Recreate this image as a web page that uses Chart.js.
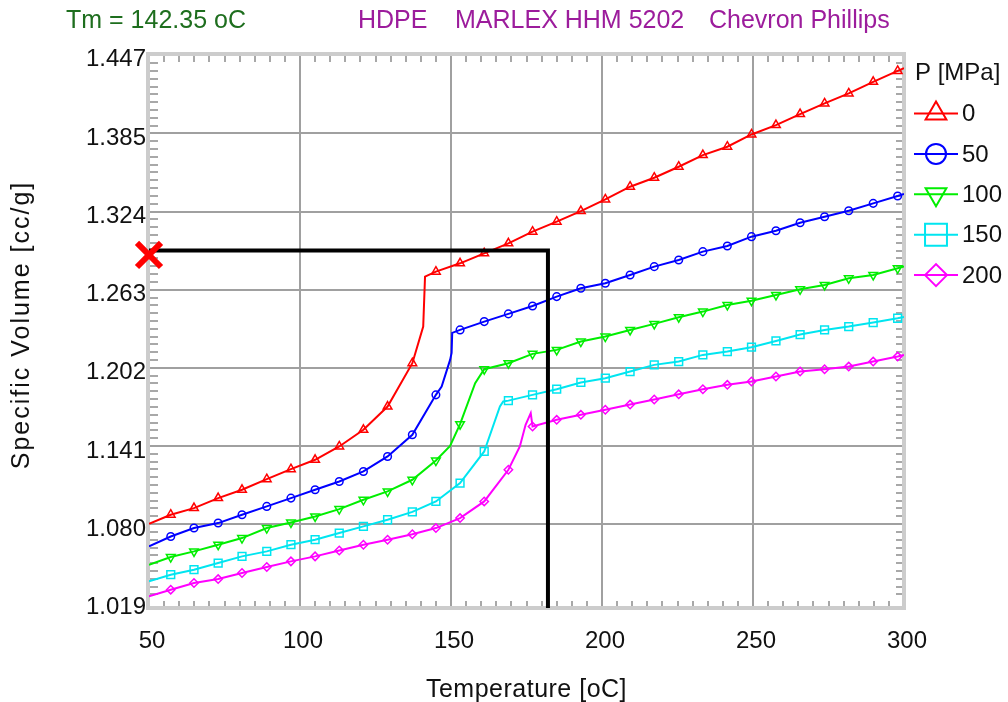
<!DOCTYPE html>
<html>
<head>
<meta charset="utf-8">
<script src="https://cdn.jsdelivr.net/npm/chart.js@4.4.1/dist/chart.umd.min.js"></script>
<style>
  html, body { margin: 0; padding: 0; background: #fff; }
  canvas { display: block; }
</style>
</head>
<body>
<canvas id="pvtChart" width="1008" height="702"></canvas>
<script>
// temperatures where the markers sit (same for every pressure)
const tempMarks = [57.2, 64.9, 72.9, 80.8, 89.0, 97.0, 105.0, 113.0, 121.0, 129.0, 137.2,
  145.0, 153.0, 161.0, 169.0, 177.0, 185.0, 193.0, 201.1, 209.3, 217.3, 225.4, 233.4,
  241.5, 249.5, 257.6, 265.6, 273.7, 281.7, 289.8, 297.9];

const pressures = ['0', '50', '100', '150', '200'];

// specific volume at the marker temperatures
const vol0 = [1.0873, 1.0925, 1.1003, 1.1068, 1.1151, 1.1229, 1.1302, 1.1406, 1.1536, 1.1718, 1.2056,
  1.2771, 1.2836, 1.2914, 1.2992, 1.3083, 1.3161, 1.3244, 1.3335, 1.3434, 1.3504, 1.3590, 1.3681,
  1.3746, 1.3842, 1.3915, 1.4001, 1.4084, 1.4162, 1.4253, 1.4338];
const vol50 = [1.0703, 1.0769, 1.0808, 1.0873, 1.0938, 1.1003, 1.1068, 1.1133, 1.1211, 1.1328, 1.1497,
  1.1809, 1.2316, 1.2381, 1.2441, 1.2503, 1.2576, 1.2641, 1.2680, 1.2745, 1.2810, 1.2862, 1.2927,
  1.2971, 1.3044, 1.3090, 1.3153, 1.3200, 1.3246, 1.3304, 1.3361];
const vol100 = [1.0543, 1.0587, 1.0639, 1.0691, 1.0769, 1.0813, 1.0860, 1.0917, 1.0990, 1.1055, 1.1146,
  1.1296, 1.1580, 1.2009, 1.2056, 1.2129, 1.2160, 1.2225, 1.2264, 1.2316, 1.2363, 1.2415, 1.2459,
  1.2511, 1.2544, 1.2589, 1.2633, 1.2667, 1.2719, 1.2745, 1.2797];
const vol150 = [1.0405, 1.0444, 1.0496, 1.0548, 1.0587, 1.0639, 1.0678, 1.0730, 1.0782, 1.0834, 1.0895,
  1.0977, 1.1120, 1.1367, 1.1764, 1.1809, 1.1853, 1.1906, 1.1939, 1.1991, 1.2043, 1.2069, 1.2121,
  1.2147, 1.2181, 1.2230, 1.2280, 1.2316, 1.2342, 1.2373, 1.2407];
const vol200 = [1.0288, 1.0340, 1.0371, 1.0418, 1.0465, 1.0509, 1.0548, 1.0594, 1.0639, 1.0678, 1.0721,
  1.0769, 1.0847, 1.0977, 1.1224, 1.1562, 1.1614, 1.1653, 1.1693, 1.1733, 1.1773, 1.1813, 1.1853,
  1.1887, 1.1913, 1.1952, 1.1991, 1.2009, 1.2030, 1.2069, 1.2108];

// extra curve points without markers (ends and the melting step), [T, V]
const edge0 = [[50, 1.0802], [140.8, 1.2342], [141.4, 1.2732], [300, 1.4360]];
const edge50 = [[50, 1.0626], [146.9, 1.1873], [149.7, 1.2082], [150.2, 1.2137], [150.4, 1.2293], [300, 1.3377]];
const edge100 = [[50, 1.0483], [149.7, 1.1411], [158.0, 1.1900], [300, 1.2811]];
const edge150 = [[50, 1.0353], [166.2, 1.1718], [167.3, 1.1757], [300, 1.2417]];
const edge200 = [[50, 1.0236], [172.8, 1.1406], [174.7, 1.1575], [176.4, 1.1666], [300, 1.2121]];

// y axis tick values and their printed labels
const vTicks = [1.019, 1.080, 1.141, 1.202, 1.263, 1.324, 1.385, 1.447];
const vTickLabels = ['1.019', '1.080', '1.141', '1.202', '1.263', '1.324', '1.385', '1.447'];
const vMin = 1.0145;
const vMax = 1.447;

// cursor at the selected point
const cursorT = 182.1;
const cursorV = 1.2935;
const cursorMarkV = 1.2901;

const FONT = '"Liberation Sans", Arial, sans-serif';

const styles = [
  { color: '#ff0000', point: 'triangle', rot: 0, r: 5, lr: 12 },
  { color: '#0000ff', point: 'circle', rot: 0, r: 3.8, lr: 10 },
  { color: '#00ee00', point: 'triangle', rot: 180, r: 5, lr: 12 },
  { color: '#00e5f0', point: 'rect', rot: 0, r: 5.5, lr: 15.5 },
  { color: '#ff00ff', point: 'rectRot', rot: 0, r: 4.2, lr: 11 }
];

function buildSeries(vols, edges) {
  const pts = tempMarks.map((t, i) => ({ x: t, y: vols[i], m: true }));
  edges.forEach(e => pts.push({ x: e[0], y: e[1], m: false }));
  pts.sort((a, b) => a.x - b.x);
  return pts;
}

const allVols = [vol0, vol50, vol100, vol150, vol200];
const allEdges = [edge0, edge50, edge100, edge150, edge200];

const datasets = pressures.map((p, i) => {
  const s = styles[i];
  return {
    label: p,
    data: buildSeries(allVols[i], allEdges[i]),
    borderColor: s.color,
    backgroundColor: 'rgba(0,0,0,0)',
    borderWidth: 2,
    pointStyle: s.point,
    rotation: s.rot,
    pointRadius: c => (c.raw && c.raw.m ? s.r : 0),
    pointBorderWidth: 1.5,
    pointBorderColor: s.color,
    pointBackgroundColor: 'rgba(0,0,0,0)',
    tension: 0,
    order: 2
  };
});

datasets.push({
  label: 'cursor',
  data: [{ x: 50, y: cursorV }, { x: cursorT, y: cursorV }, { x: cursorT, y: vMin }],
  borderColor: '#000',
  borderWidth: 4,
  pointRadius: 0,
  tension: 0,
  order: 1
});

datasets.push({
  label: 'mark',
  data: [{ x: 50, y: cursorMarkV }],
  showLine: false,
  pointStyle: 'crossRot',
  pointRadius: 17,
  pointBorderWidth: 6,
  pointBorderColor: '#ff0000',
  borderColor: '#ff0000',
  clip: false,
  order: 0
});

// frame, minor ticks
const framePlugin = {
  id: 'framePlugin',
  beforeDatasetsDraw(chart) {
    const { ctx, chartArea: a, scales: { x, y } } = chart;
    ctx.save();
    ctx.strokeStyle = '#a8a8a8';
    ctx.lineWidth = 2;
    ctx.beginPath();
    for (let t = 55; t < 300; t += 5) {
      if (t % 50 === 0) continue;
      const px = Math.round(x.getPixelForValue(t));
      ctx.moveTo(px, a.top); ctx.lineTo(px, a.top + 8);
      ctx.moveTo(px, a.bottom); ctx.lineTo(px, a.bottom - 7);
    }
    const step = (vTicks[1] - vTicks[0]) / 10;
    for (let k = 1; k < 70; k++) {
      if (k % 10 === 0) continue;
      const v = vTicks[0] + k * step;
      if (v >= vMax) break;
      const py = Math.round(y.getPixelForValue(v));
      ctx.moveTo(a.left, py); ctx.lineTo(a.left + 9, py);
      ctx.moveTo(a.right, py); ctx.lineTo(a.right - 8, py);
    }
    ctx.stroke();
    ctx.strokeStyle = '#cccccc';
    ctx.lineWidth = 4;
    ctx.strokeRect(a.left - 1, a.top, a.right - a.left + 1, a.bottom - a.top);
    ctx.restore();
  }
};

// titles, axis names, legend
const textPlugin = {
  id: 'textPlugin',
  afterDraw(chart) {
    const { ctx, chartArea: a } = chart;
    ctx.save();
    ctx.font = '25px ' + FONT;
    ctx.textBaseline = 'alphabetic';
    ctx.textAlign = 'left';
    ctx.fillStyle = '#1e6e1e';
    ctx.fillText('Tm = 142.35 oC', 66, 28);
    ctx.fillStyle = '#9c1c9c';
    ctx.fillText('HDPE', 358, 28);
    ctx.fillText('MARLEX HHM 5202', 455, 28);
    ctx.fillText('Chevron Phillips', 709, 28);

    ctx.fillStyle = '#111';
    ctx.textAlign = 'center';
    ctx.letterSpacing = '0.5px';
    ctx.fillText('Temperature [oC]', (a.left + a.right) / 2, 697);
    ctx.save();
    ctx.letterSpacing = '2px';
    ctx.translate(29, 325);
    ctx.rotate(-Math.PI / 2);
    ctx.fillText('Specific Volume [cc/g]', 0, 0);
    ctx.restore();
    ctx.letterSpacing = '0px';

    // legend
    ctx.font = '24px ' + FONT;
    ctx.textAlign = 'left';
    ctx.textBaseline = 'middle';
    ctx.fillStyle = '#111';
    ctx.fillText('P [MPa]', 915, 73);
    pressures.forEach((p, i) => {
      const s = styles[i];
      const yy = 113.5 + i * 40.4;
      ctx.strokeStyle = s.color;
      ctx.lineWidth = 2;
      ctx.beginPath();
      ctx.moveTo(914, yy);
      ctx.lineTo(958, yy);
      ctx.stroke();
      ctx.fillStyle = 'rgba(0,0,0,0)';
      Chart.helpers.drawPoint(ctx, { pointStyle: s.point, rotation: s.rot, radius: s.lr, borderWidth: 2 }, 936, yy);
      ctx.fillStyle = '#111';
      ctx.fillText(p, 962, yy + 1);
    });
    ctx.restore();
  }
};

new Chart(document.getElementById('pvtChart'), {
  type: 'line',
  data: { datasets: datasets },
  options: {
    responsive: false,
    animation: false,
    events: [],
    layout: { padding: { top: 54, right: 104, left: 0, bottom: 0 } },
    plugins: { legend: { display: false }, tooltip: { enabled: false } },
    scales: {
      x: {
        type: 'linear',
        min: 50,
        max: 300,
        ticks: { stepSize: 50, color: '#111', font: { family: FONT, size: 24 }, padding: 19, maxRotation: 0, labelOffset: 3 },
        grid: {
          drawTicks: false,
          lineWidth: 2,
          color: c => (c.tick && (c.tick.value === 50 || c.tick.value === 300) ? 'rgba(0,0,0,0)' : '#a0a0a0')
        },
        border: { display: false },
        afterFit: s => { s.height = 94; }
      },
      y: {
        type: 'linear',
        min: vMin,
        max: vMax,
        afterBuildTicks: s => { s.ticks = vTicks.map(v => ({ value: v })); },
        ticks: {
          color: '#111',
          font: { family: FONT, size: 24 },
          padding: 3,
          labelOffset: 5,
          callback: (v, i) => vTickLabels[i]
        },
        grid: {
          drawTicks: false,
          lineWidth: 2,
          color: c => (c.tick && (c.tick.value === vTicks[0] || c.tick.value === vMax) ? 'rgba(0,0,0,0)' : '#a0a0a0')
        },
        border: { display: false },
        afterFit: s => { s.width = 149; }
      }
    }
  },
  plugins: [framePlugin, textPlugin]
});
</script>
</body>
</html>
